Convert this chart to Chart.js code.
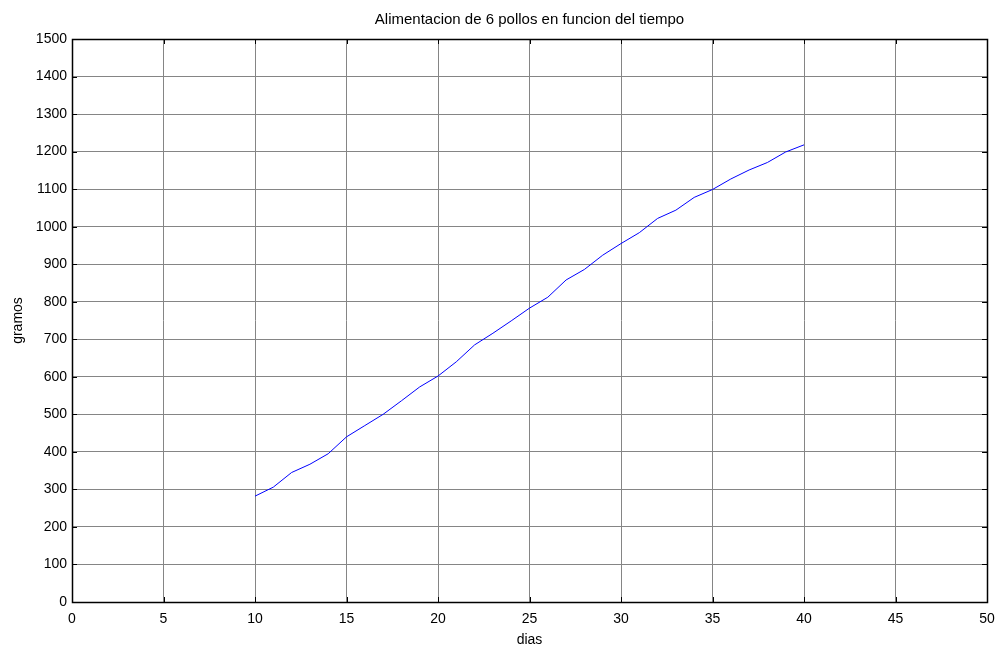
<!DOCTYPE html>
<html>
<head>
<meta charset="utf-8">
<script src="https://cdn.jsdelivr.net/npm/chart.js@4"></script>
<style>
html,body{margin:0;padding:0;background:#fff;}
#wrap{width:998px;height:649px;position:relative;}
</style>
</head>
<body>
<div id="wrap"><canvas id="c" width="998" height="649"></canvas></div>
<script>
const titleText = "Alimentacion de 6 pollos en funcion del tiempo";
const xLabel = "dias";
const yLabel = "gramos";
const days = [10,11,12,13,14,15,16,17,18,19,20,21,22,23,24,25,26,27,28,29,30,31,32,33,34,35,36,37,38,39,40];
const grams = [282,306,345,367,395,440,470,500,536,573,602,640,685,716,749,783,812,858,886,924,955,984,1022,1044,1078,1099,1127,1151,1171,1199,1218];
const xTicks = [0,5,10,15,20,25,30,35,40,45,50];
const yTicks = [0,100,200,300,400,500,600,700,800,900,1000,1100,1200,1300,1400,1500];

const FONT = "'Liberation Sans', Arial, sans-serif";

const boxPlugin = {
  id: 'boxTicks',
  afterDraw(chart) {
    const {ctx, chartArea: a, scales} = chart;
    ctx.save();
    ctx.strokeStyle = '#000';
    ctx.lineWidth = 1;
    const L = 5;
    ctx.beginPath();
    xTicks.forEach(v => {
      const px = Math.round(scales.x.getPixelForValue(v)) + 0.5;
      ctx.moveTo(px, a.bottom); ctx.lineTo(px, a.bottom - L);
      ctx.moveTo(px, a.top); ctx.lineTo(px, a.top + L);
    });
    yTicks.forEach(v => {
      const py = Math.round(scales.y.getPixelForValue(v)) + 0.5;
      ctx.moveTo(a.left, py); ctx.lineTo(a.left + L, py);
      ctx.moveTo(a.right, py); ctx.lineTo(a.right - L, py);
    });
    ctx.stroke();
    ctx.lineWidth = 1.5;
    ctx.strokeRect(Math.round(a.left)+0.5, Math.round(a.top)+0.5, Math.round(a.right-a.left), Math.round(a.bottom-a.top));
    ctx.restore();
  }
};

new Chart(document.getElementById('c'), {
  type: 'line',
  data: {
    datasets: [{
      data: days.map((d, i) => ({x: d, y: grams[i]})),
      borderColor: '#0000ff',
      borderWidth: 1,
      pointRadius: 0,
      fill: false,
      tension: 0
    }]
  },
  options: {
    responsive: false,
    animation: false,
    devicePixelRatio: 1,
    layout: {padding: {left: 0, right: 11, top: 0, bottom: 0}},
    plugins: {
      legend: {display: false},
      tooltip: {enabled: false},
      title: {
        display: true,
        fullSize: false,
        text: titleText,
        color: '#000',
        font: {family: FONT, size: 15, weight: 'normal'},
        padding: {top: 11, bottom: 10}
      }
    },
    scales: {
      x: {
        type: 'linear',
        min: 0, max: 50,
        afterBuildTicks(scale) { scale.ticks = xTicks.map(v => ({value: v})); },
        afterFit(scale) { scale.height = 47; scale.paddingRight = 0; scale.paddingLeft = 0; },
        ticks: {color: '#000', font: {family: FONT, size: 14}, padding: 9, autoSkip: false, maxRotation: 0,
                callback: v => String(v)},
        grid: {color: '#858585', lineWidth: 1, drawTicks: false},
        border: {display: false},
        title: {display: true, text: xLabel, color: '#000', font: {family: FONT, size: 14}, padding: {top: 0, bottom: 0}}
      },
      y: {
        type: 'linear',
        min: 0, max: 1500,
        afterBuildTicks(scale) { scale.ticks = yTicks.map(v => ({value: v})); },
        afterFit(scale) { scale.width = 72; },
        ticks: {color: '#000', font: {family: FONT, size: 14}, padding: 5, autoSkip: false,
                callback: v => String(v)},
        grid: {color: '#858585', lineWidth: 1, drawTicks: false},
        border: {display: false},
        title: {display: true, text: yLabel, color: '#000', font: {family: FONT, size: 14}, padding: {top: 10, bottom: 0}}
      }
    }
  },
  plugins: [boxPlugin]
});
</script>
</body>
</html>
